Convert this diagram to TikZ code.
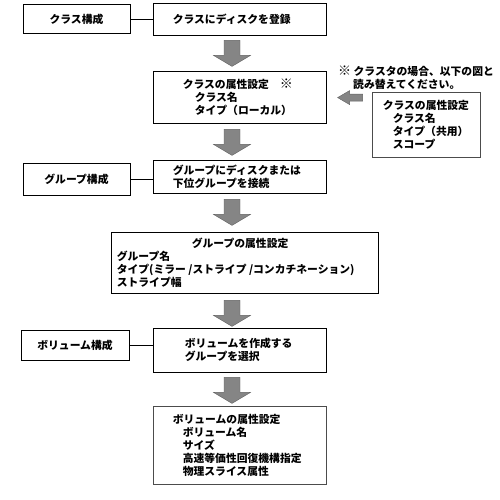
\documentclass[tikz,border=0pt]{standalone}
\usepackage{fontspec}
\setmainfont{Noto Sans CJK JP}
\usetikzlibrary{positioning}
\usetikzlibrary{calc}
\tikzset{box/.style={draw, line width=0.8pt, inner sep=0pt},
 graybox/.style={box, draw=black!70},
 txt/.style={inner sep=0pt, align=left},
 link/.style={draw, line width=0.7pt},
 arrowfill/.style={fill=black!48, draw=black!62, line width=0.4pt},
 downarr/.pic={\filldraw[arrowfill] (-8,0) -- (8,0) -- (8,15) -- (18.5,15)
   -- (0,26) -- (-18.5,15) -- (-8,15) -- cycle;},
 leftarr/.pic={\filldraw[arrowfill] (0,-3.5) -- (-13,-3.5) -- (-13,-7)
   -- (-25,0) -- (-13,7) -- (-13,3.5) -- (0,3.5) -- cycle;},
 }

\begin{document}
\begin{tikzpicture}[x=1pt, y=-1pt, font=\bfseries\fontsize{10.8}{13}\selectfont]
        \useasboundingbox (0,0) rectangle (500,500);
        % left column
        \node[box, minimum width=107, minimum height=29] (clscfg) at (76.5,19) {クラス構成};
        \node[box, minimum width=107, minimum height=32] (grpcfg) at (76.5,179) {グループ構成};
        \node[box, minimum width=108, minimum height=30] (volcfg) at (75,345) {ボリューム構成};
        % main column
        \node[box, minimum width=173, minimum height=32] (clsreg) at (239.5,19) {};
        \node[txt, right=20pt of clsreg.west] (clsregtxt) {クラスにディスクを登録};
        \node[box, minimum width=173, minimum height=52] (clsattr) at (239.5,97) {};
        \node[txt, right=30pt of clsattr.west] (clsattrtxt) {クラスの属性設定　{\fontsize{13}{13}\selectfont ※}\\
          \hspace*{12pt}クラス名\\\hspace*{12pt}タイプ（ローカル）};
        \node[box, minimum width=173, minimum height=33] (grpcon) at (239.5,176.5) {};
        \node[txt, right=20pt of grpcon.west] (grpcontxt) {グループにディスクまたは\\下位グループを接続};
        \node[box, minimum width=267, minimum height=61] (grpattr) at (244.5,262.5) {};
        \node[txt, right=6pt of grpattr.west] (grpattrtxt) {\hspace*{75pt}グループの属性設定\\
          グループ名\\タイプ(ミラー /ストライプ /コンカチネーション)\\ストライプ幅};
        \node[box, minimum width=173, minimum height=44] (volmk) at (239.5,350) {};
        \node[txt, right=32pt of volmk.west] (volmktxt) {ボリュームを作成する\\グループを選択};
        \node[graybox, minimum width=173, minimum height=78] (volattr) at (239.5,445) {};
        \node[txt, right=20pt of volattr.west] (volattrtxt) {ボリュームの属性設定\\
          \hspace*{10pt}ボリューム名\\\hspace*{10pt}サイズ\\
          \hspace*{10pt}高速等価性回復機構指定\\\hspace*{10pt}物理スライス属性};
        % cluster note
        \node[txt, anchor=west] (note) at (338,77.5) {{\fontsize{13}{13}\selectfont ※} クラスタの場合、以下の図と\\
          \hspace*{15pt}読み替えてください。};
        \node[graybox, minimum width=108, minimum height=65] (shattr) at (426,124.5) {};
        \node[txt, right=11pt of shattr.west] (shattrtxt) {クラスの属性設定\\
          \hspace*{10pt}クラス名\\\hspace*{10pt}タイプ（共用）\\\hspace*{10pt}スコープ};
        % links
        \draw[link] (clscfg.east) -- (clscfg.east -| clsreg.west);
        \draw[link] (grpcfg.east) -- (grpcfg.east -| grpcon.west);
        \draw[link] (volcfg.east) -- (volcfg.east -| volmk.west);
        % flow arrows
        \pic at ($(clsreg.south)+(-7.5,5)$) {downarr};
        \pic at ($(clsattr.south)+(-7.5,6)$) {downarr};
        \pic at ($(grpcon.south)+(-7.5,6)$) {downarr};
        \pic at ($(grpattr.south)+(-12.5,7)$) {downarr};
        \pic at ($(volmk.south)+(-7.5,5)$) {downarr};
        \pic at ($(shattr.north west)+(-9,6)$) {leftarr};
    \end{tikzpicture}
\end{document}
